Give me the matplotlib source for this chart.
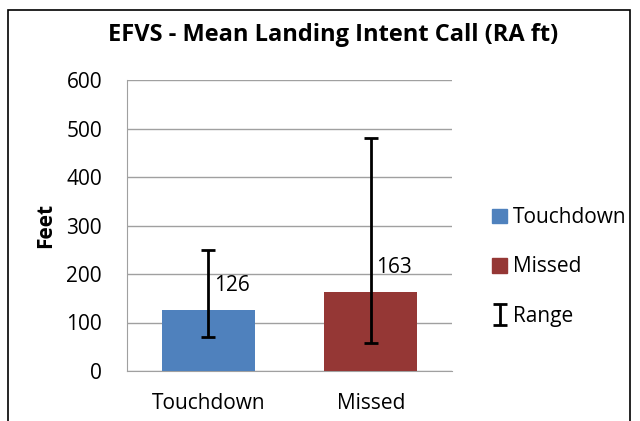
import matplotlib.pyplot as plt
from matplotlib.patches import Patch, Rectangle

# Values
categories = ["Touchdown", "Missed"]
means = [126, 163]
range_low = [70, 58]
range_high = [250, 480]
bar_colors = ["#4f81bd", "#953735"]
yticks = [0, 100, 200, 300, 400, 500, 600]

plt.rcParams["font.family"] = ["Open Sans", "DejaVu Sans"]

fig = plt.figure(figsize=(6.4, 4.21), dpi=100)
ax = fig.add_axes([127 / 640, 1 - 371 / 421, 325 / 640, 291 / 421])

x = range(len(categories))
ax.bar(x, means, width=0.57, color=bar_colors, zorder=3)

# Range whiskers (asymmetric error bars)
err = [[m - lo for m, lo in zip(means, range_low)],
       [hi - m for m, hi in zip(means, range_high)]]
eb = ax.errorbar(x, means, yerr=err, fmt="none", ecolor="black",
                 elinewidth=2, capsize=5, capthick=2, zorder=4)

# Data labels sit just right of the whisker
for xi, m in zip(x, means):
    ax.annotate(str(m), (xi, m), xytext=(4, 10), textcoords="offset points",
                ha="left", va="bottom", fontsize=15)

ax.set_xlim(-0.5, 1.5)
ax.set_ylim(0, 600)
ax.set_yticks(yticks)
ax.set_xticks(list(x))
ax.set_xticklabels(categories, fontsize=15)
ax.tick_params(axis="y", labelsize=15, length=0, pad=18)
ax.tick_params(axis="x", length=0, pad=16)
ax.yaxis.grid(True, color="#a0a0a0", linewidth=1, zorder=0)
ax.set_axisbelow(True)
for side in ["top", "right"]:
    ax.spines[side].set_visible(False)
ax.spines["left"].set_color("#a0a0a0")
ax.spines["bottom"].set_color("#a0a0a0")

ax.set_ylabel("Feet", fontsize=15, fontweight="bold", labelpad=7)
fig.text(333 / 640, 1 - 35 / 421, "EFVS - Mean Landing Intent Call (RA ft)",
         fontsize=17, fontweight="bold", ha="center", va="center")

handles = [Patch(color=bar_colors[0]), Patch(color=bar_colors[1]), eb]
leg = fig.legend(handles, ["Touchdown", "Missed", "Range"],
                 loc="center left", bbox_to_anchor=(482 / 640, 1 - 267 / 421),
                 frameon=False, fontsize=15, handlelength=0.7,
                 handletextpad=0.3, labelspacing=1.35, borderpad=0)

# Outer chart border
fig.patches.append(Rectangle((8 / 640, -0.05), 622 / 640, 1 - 10 / 421 + 0.05,
                             transform=fig.transFigure, fill=False,
                             edgecolor="black", linewidth=1.2))

fig.savefig("out.png", dpi=100)
